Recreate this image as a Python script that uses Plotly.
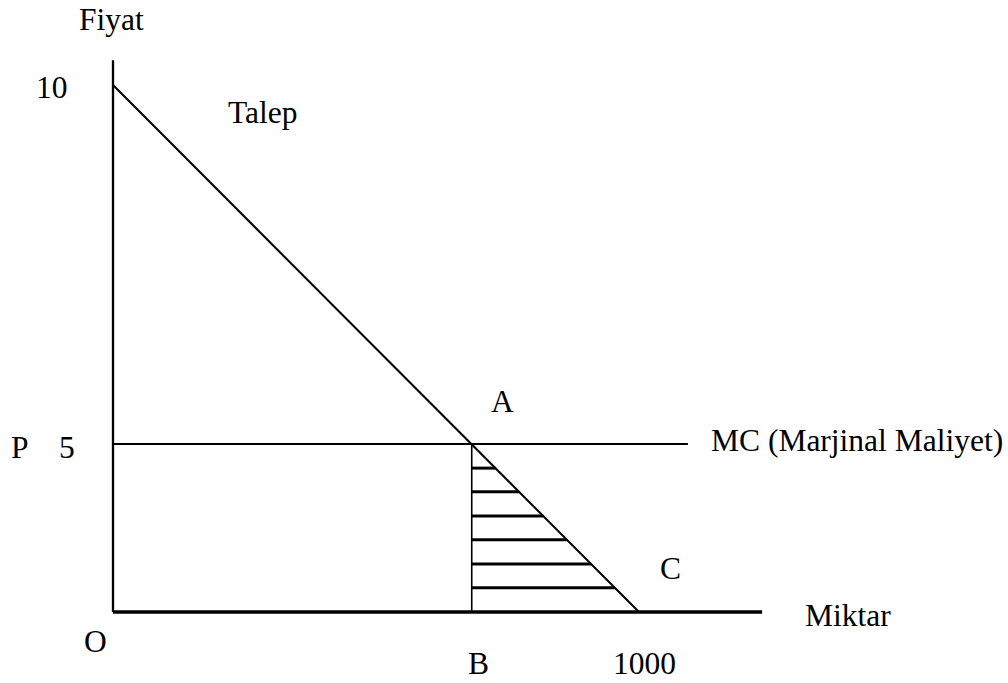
import plotly.graph_objects as go

# --- data (as drawn) ---
demand_price_intercept = 10.0      # Fiyat axis intercept of Talep
demand_qty_intercept = 1000.0      # Miktar axis intercept of Talep
mc_level = 3.19                    # drawn height of MC line (labelled "5")
qty_B = 682.0                      # drawn position of B (where MC meets demand)
hatch_levels = [2.73, 2.28, 1.82, 1.37, 0.91, 0.46]
x_axis_end = 1234.0
y_axis_end = 10.47
mc_end = 1093.0

# page-pixel -> data mapping helpers (layout only)
X0, XS = 113.0, 0.526
Y0, YS = 612.0, 52.7
def dx(px):
    return (px - X0) / XS
def dy(py):
    return (Y0 - py) / YS

def demand_q(p):
    return demand_qty_intercept * (1 - p / demand_price_intercept)

fig = go.Figure()
black = "black"

# axes
fig.add_trace(go.Scatter(x=[0, 0], y=[0, y_axis_end], mode="lines",
                         line=dict(color=black, width=2.3), hoverinfo="skip"))
fig.add_trace(go.Scatter(x=[0, x_axis_end], y=[0, 0], mode="lines",
                         line=dict(color=black, width=3.3), hoverinfo="skip"))
# demand
fig.add_trace(go.Scatter(x=[0, demand_qty_intercept], y=[demand_price_intercept, 0], mode="lines",
                         line=dict(color=black, width=2), hoverinfo="skip"))
# MC
fig.add_trace(go.Scatter(x=[0, mc_end], y=[mc_level, mc_level], mode="lines",
                         line=dict(color=black, width=2), hoverinfo="skip"))
# AB vertical
fig.add_trace(go.Scatter(x=[qty_B, qty_B], y=[0, mc_level], mode="lines",
                         line=dict(color=black, width=1.6), hoverinfo="skip"))
# hatch
hx, hy = [], []
for p in hatch_levels:
    hx += [qty_B, demand_q(p), None]
    hy += [p, p, None]
fig.add_trace(go.Scatter(x=hx, y=hy, mode="lines",
                         line=dict(color=black, width=3), hoverinfo="skip"))

font = dict(family="Liberation Serif, Times New Roman, serif", size=31.5, color=black)
labels = [
    ("10", 52, 88, "center"),
    ("Talep", 263, 113, "center"),
    ("A", 502, 402, "center"),
    ("MC (Marjinal Maliyet)", 709, 441, "left"),
    ("P", 20, 448, "center"),
    ("5", 67, 448, "center"),
    ("C", 670, 569, "center"),
    ("O", 95, 642, "center"),
    ("B", 478, 664, "center"),
    ("1000", 644, 664, "center"),
    ("Miktar", 803, 616, "left"),
]
for t, px, py, anc in labels:
    fig.add_annotation(x=dx(px), y=dy(py - 1), text=t, showarrow=False,
                       xanchor=anc, yanchor="middle", font=font)
# axis title at the very top
fig.add_annotation(x=dx(111), y=dy(0), text="Fiyat", showarrow=False,
                   xanchor="center", yanchor="top", font=font)

fig.update_layout(
    width=1008, height=683,
    margin=dict(l=0, r=0, t=0, b=0),
    paper_bgcolor="white", plot_bgcolor="white",
    showlegend=False,
    xaxis=dict(range=[dx(0), dx(1008)], visible=False, fixedrange=True),
    yaxis=dict(range=[dy(683), dy(0)], visible=False, fixedrange=True),
)
fig.write_html(
    "out.html",
    config={"displayModeBar": False},
    post_script="document.body.style.margin='0';document.body.style.overflow='hidden';",
)
